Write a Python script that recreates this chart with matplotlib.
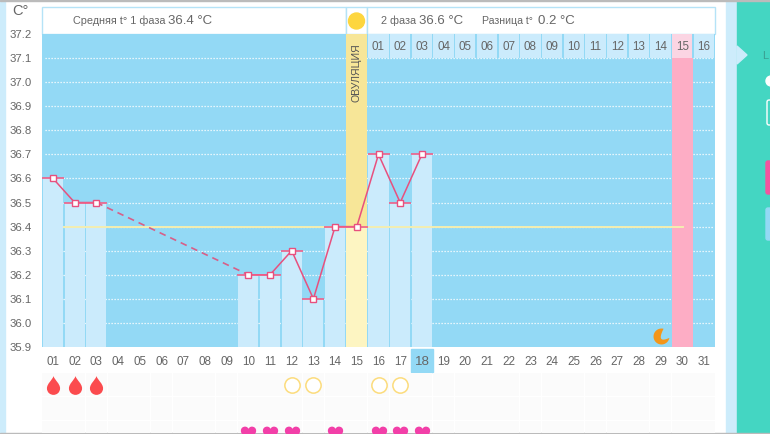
import matplotlib
matplotlib.use("Agg")
import matplotlib.pyplot as plt
import numpy as np
from matplotlib.patches import Rectangle, FancyBboxPatch, Polygon
from matplotlib.path import Path

plt.rcParams["font.family"] = ["Liberation Sans", "DejaVu Sans"]

# данные графика
days = list(range(1, 32))
day_labels = ["%02d" % d for d in days]
phase2_labels = ["%02d" % d for d in range(1, 17)]
temp_ticks = [35.9, 36.0, 36.1, 36.2, 36.3, 36.4, 36.5, 36.6, 36.7, 36.8, 36.9, 37.0, 37.1, 37.2]
first_days = [1, 2, 3]
first_temps = [36.6, 36.5, 36.5]
second_days = [10, 11, 12, 13, 14, 15, 16, 17, 18]
second_temps = [36.2, 36.2, 36.3, 36.1, 36.4, 36.4, 36.7, 36.5, 36.7]
gap_days = [3, 10]
gap_temps = [36.5, 36.2]
mean_temp = 36.4
ovulation_day = 15
period_day = 30
today = 18
moon_day = 29
blood_days = [1, 2, 3]
circle_days = [12, 13, 16, 17]
heart_days = [10, 11, 12, 14, 16, 17, 18]

W, H = 770, 434
GREY = "#666666"
SKY = "#93d9f5"
PALE = "#cbebfc"
PINK = "#e8507e"

fig = plt.figure(figsize=(W / 100, H / 100), dpi=100, facecolor="white")


def px_axes(x0, y0, x1, y1):
    # оси по пикселям картинки
    return fig.add_axes([x0 / W, 1 - y1 / H, (x1 - x0) / W, (y1 - y0) / H])


# страница вокруг графика
page = px_axes(0, 0, W, H)
page.set_xlim(0, W)
page.set_ylim(H, 0)
page.axis("off")
page.add_patch(Rectangle((0, 0), 5, H, color="#cdecfb"))
page.add_patch(Rectangle((726, 0), 11, H, color="#cdecfb"))
page.add_patch(Rectangle((737, 0), 33, H, color="#44d6c2"))
page.add_patch(Polygon([(737, 46), (747, 55), (737, 64)], color="#cdecfb"))
page.add_patch(FancyBboxPatch((766, 161), 8, 33, boxstyle="round,pad=0,rounding_size=2", color="#f2559f"))
page.add_patch(FancyBboxPatch((766, 208), 8, 32, boxstyle="round,pad=0,rounding_size=2", color="#93d9f5"))
page.add_patch(FancyBboxPatch((767, 100), 8, 25, boxstyle="round,pad=0,rounding_size=2",
                              fc="none", ec="white", lw=1))
page.add_patch(plt.Circle((771, 81), 5, color="white"))
page.text(762, 56, "L", fontsize=8, color="#3a9f92", va="center")
page.add_patch(Rectangle((0, 0), W, 1, color="#bbbbbb"))
page.add_patch(Rectangle((0, 433), W, 1, color="#bbbbbb"))
# шапка
page.add_patch(Rectangle((41.5, 7), 304, 26.5, fc="white", ec="#b5e3f7", lw=1))
page.add_patch(Rectangle((345.5, 7), 21, 26.5, fc="white", ec="#b5e3f7", lw=1))
page.add_patch(Rectangle((367, 7), 348, 26.5, fc="white", ec="#b5e3f7", lw=1))
page.add_patch(plt.Circle((356.5, 21), 8, color="#fdd63f"))
page.text(20, 11, "C°", fontsize=10.5, color=GREY, ha="center", va="center")
page.text(73, 21, "Средняя t° 1 фаза", fontsize=7.8, color=GREY, va="center")
page.text(168, 20.5, "36.4 °C", fontsize=9.5, color=GREY, va="center")
page.text(381, 21, "2 фаза", fontsize=7.8, color=GREY, va="center")
page.text(419, 20.5, "36.6 °C", fontsize=9.5, color=GREY, va="center")
page.text(482, 21, "Разница t°", fontsize=7.6, color=GREY, va="center")
page.text(538, 20.5, "0.2 °C", fontsize=9.5, color=GREY, va="center")
page.add_patch(Rectangle((42.15 + 21.7 * (today - 1), 349), 21.7, 23, color=SKY))

# основной график
ax = px_axes(42.15, 34, 714.85, 347)
ax.set_facecolor(SKY)
ax.set_xlim(0.5, 31.5)
ax.set_ylim(35.9, 37.2)
for side in ax.spines.values():
    side.set_visible(False)
ax.set_xticks(days)
ax.set_xticklabels(day_labels, fontsize=8.4, color=GREY)
ax.set_yticks(temp_ticks)
ax.set_yticklabels(["%.1f" % t for t in temp_ticks], fontsize=8.2, color=GREY)
ax.tick_params(axis="x", length=0, pad=6.5)
ax.tick_params(axis="y", length=0, pad=7.5)
ax.get_xticklabels()[today - 1].set_fontsize(9.5)

ax.hlines(temp_ticks[1:-1], 0.65, 31.45, color="white", lw=0.9, linestyles=(0, (1, 1.4)), zorder=1)
ax.hlines(35.9, 0.65, 31.45, color="white", lw=0.7, linestyles=(0, (1, 1.4)), zorder=1)

all_days = first_days + second_days
all_temps = first_temps + second_temps
for d, t in zip(all_days, all_temps):
    if d != ovulation_day:
        ax.bar(d, t - 35.9, bottom=35.9, width=0.93, color=PALE, zorder=2)

# овуляция и день месячных
ax.bar(ovulation_day, 37.2 - mean_temp, bottom=mean_temp, width=0.97, color="#f7e698", zorder=2)
ax.bar(ovulation_day, mean_temp - 35.9, bottom=35.9, width=0.97, color="#fdf5c2", zorder=2)
ax.text(ovulation_day, 37.038, "ОВУЛЯЦИЯ", rotation=90, fontsize=7.6, color="#555555",
        ha="center", va="center", zorder=6)
ax.bar(period_day, 37.1 - 35.9, bottom=35.9, width=0.95, color="#fdadc5", zorder=2)

# вторая фаза - строка номеров
for d, lab in zip(days[15:], phase2_labels):
    c = "#fbd5e3" if d == period_day else PALE
    ax.bar(d, 0.1, bottom=37.1, width=0.94, color=c, zorder=2)
    ax.text(d, 37.148, lab, fontsize=8.4, color=GREY, ha="center", va="center", zorder=6)

ax.plot([1.5, 30.05], [mean_temp, mean_temp], color="#f4eeb0", lw=1.4, zorder=3)

# кривая температуры
ax.plot(gap_days, gap_temps, color="#d85f88", lw=1.2, ls=(0, (4, 3)), zorder=4)
ax.plot(first_days, first_temps, color=PINK, lw=1.1, zorder=4)
ax.plot(second_days, second_temps, color=PINK, lw=1.1, zorder=4)
ax.plot(all_days, all_temps, ls="none", marker="_", ms=15.5, mew=1.2, color="#ee5f88", zorder=4)
ax.plot(all_days, all_temps, ls="none", marker="s", ms=3.8, mfc="white", mec=PINK, mew=1, zorder=5)

# луна: внешняя дуга и вырез к верхнему правому углу
a = np.radians(np.linspace(75, 350, 40))
outer = np.c_[np.cos(a), np.sin(a)]
s = np.linspace(0, 1, 30)[:, None]
inner = outer[-1] * (1 - s) + outer[0] * s + np.array([-0.7, -0.7]) * 0.95 * 4 * s * (1 - s)
moon = Path(np.r_[outer, inner])
ax.plot([moon_day], [35.945], marker=moon, ms=11.5, color="#f3961a", mew=0, zorder=5, ls="none")

# нижние строки с отметками
low = px_axes(42.15, 373, 714.85, 433)
low.set_xlim(0.5, 31.5)
low.set_ylim(2.0, -0.5)
low.axis("off")
low.bar(days, [0.94] * 31, bottom=-0.5, width=0.97, color="#fbfbfb", zorder=1)
low.bar(days, [0.94] * 31, bottom=0.5, width=0.97, color="#fbfbfb", zorder=1)
low.bar(days, [0.5] * 31, bottom=1.5, width=0.97, color="#fbfbfb", zorder=1)

drop = Path(
    [(0, 1), (0.15, 0.55), (0.7, 0.2), (0.7, -0.3), (0.7, -0.75), (0.35, -1), (0, -1),
     (-0.35, -1), (-0.7, -0.75), (-0.7, -0.3), (-0.7, 0.2), (-0.15, 0.55), (0, 1)],
    [Path.MOVETO] + [Path.CURVE4] * 12,
)
heart = Path(
    [(0, -0.9), (-0.5, -0.45), (-1, -0.1), (-1, 0.35), (-1, 0.75), (-0.7, 0.9), (-0.45, 0.9),
     (-0.2, 0.9), (-0.05, 0.75), (0, 0.6), (0.05, 0.75), (0.2, 0.9), (0.45, 0.9),
     (0.7, 0.9), (1, 0.75), (1, 0.35), (1, -0.1), (0.5, -0.45), (0, -0.9)],
    [Path.MOVETO] + [Path.CURVE4] * 18,
)
low.plot(blood_days, [0] * len(blood_days), ls="none", marker=drop, ms=13.5, color="#fb4b4e", mew=0, zorder=3)
low.plot(circle_days, [0] * len(circle_days), ls="none", marker="o", ms=11, mfc="white",
         mec="#fcdc7c", mew=1.1, zorder=3)
low.plot(heart_days, [2] * len(heart_days), ls="none", marker=heart, ms=11, color="#f23fa8", mew=0, zorder=3)

fig.savefig("out.png", dpi=100, facecolor="white")
